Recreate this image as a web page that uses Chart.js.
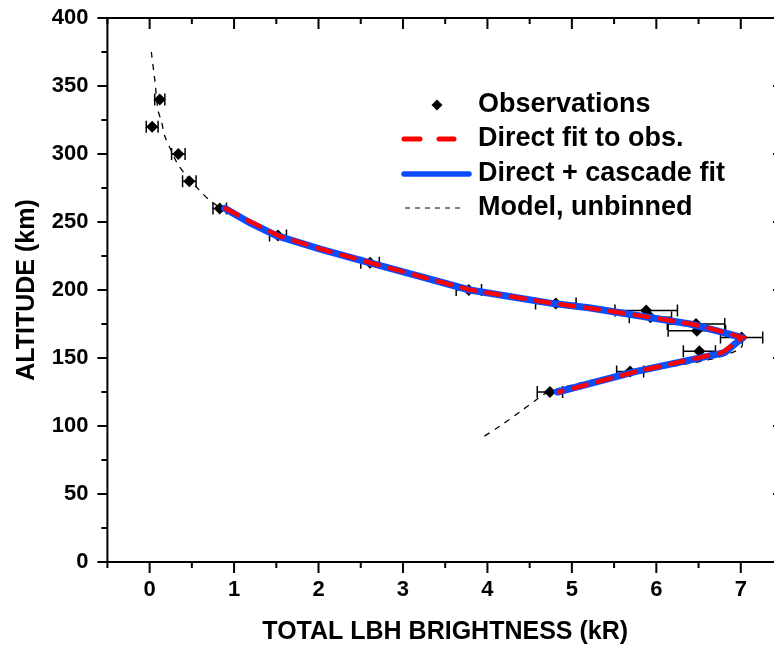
<!DOCTYPE html>
<html>
<head>
<meta charset="utf-8">
<script src="https://cdn.jsdelivr.net/npm/chart.js@4.4.1/dist/chart.umd.min.js"></script>
<style>
  html, body { margin: 0; padding: 0; background: #fff; overflow: hidden; }
  #wrap { width: 774px; height: 646px; overflow: hidden; }
  canvas { display: block; }
</style>
</head>
<body>
<div id="wrap"><canvas id="chart" width="792" height="646"></canvas></div>
<script>
// observations (altitude km, brightness kR, +/- error)
const obsAlt = [340, 320, 300, 280, 260, 240, 220, 200, 190, 185, 180, 175, 170, 165, 155, 140, 125];
const obsVal = [0.12, 0.03, 0.34, 0.47, 0.83, 1.52, 2.61, 3.78, 4.81, 5.88, 5.93, 6.47, 6.48, 7.01, 6.51, 5.69, 4.74];
const obsErr = [0.06, 0.07, 0.08, 0.08, 0.08, 0.10, 0.11, 0.15, 0.24, 0.37, 0.25, 0.34, 0.34, 0.25, 0.19, 0.16, 0.15];

// direct fit to obs.
const directAlt = [260, 250, 240, 230, 220, 210, 200, 190, 185, 180, 175, 170, 165, 154, 140, 125];
const directVal = [0.90, 1.20, 1.52, 2.03, 2.62, 3.20, 3.80, 4.80, 5.40, 5.92, 6.42, 6.74, 7.02, 6.78, 5.76, 4.85];

// direct + cascade fit
const cascadeAlt = [260, 250, 240, 230, 220, 210, 200, 190, 187, 175, 170, 165, 154, 140, 125];
const cascadeVal = [0.89, 1.17, 1.50, 2.02, 2.61, 3.20, 3.79, 4.78, 5.20, 6.40, 6.72, 7.02, 6.81, 5.75, 4.83];

// model, unbinned
const modelAlt = [375, 355, 332, 324, 313, 302, 294, 285, 274, 266, 260, 250, 240, 230, 220, 210, 200, 190, 180, 175, 170, 165, 160, 156, 150, 145, 140, 132, 125, 118, 112, 100, 92];
const modelVal = [0.02, 0.06, 0.10, 0.14, 0.18, 0.26, 0.32, 0.42, 0.58, 0.71, 0.85, 1.17, 1.52, 2.02, 2.60, 3.18, 3.80, 4.80, 5.85, 6.38, 6.75, 6.97, 7.02, 6.97, 6.70, 6.30, 5.72, 5.13, 4.72, 4.55, 4.42, 4.15, 3.95];

const xMin = -0.5, xMax = 7.5, xMinor = 0.5;
const yMin = 0, yMax = 400, yMinor = 25;

const toXY = (vals, alts) => vals.map((v, i) => ({ x: v, y: alts[i] }));

const FONT = '"Liberation Sans", Arial, sans-serif';

// error bars under the observation diamonds
const errorBars = {
  id: 'errorBars',
  beforeDatasetsDraw(chart) {
    const { ctx, scales: { x, y } } = chart;
    ctx.save();
    ctx.beginPath();
    ctx.rect(chart.chartArea.left, chart.chartArea.top, chart.chartArea.width, chart.chartArea.height);
    ctx.clip();
    ctx.strokeStyle = '#000';
    ctx.lineWidth = 1.5;
    obsAlt.forEach((alt, i) => {
      const py = y.getPixelForValue(alt);
      const x0 = x.getPixelForValue(obsVal[i] - obsErr[i]);
      const x1 = x.getPixelForValue(obsVal[i] + obsErr[i]);
      ctx.beginPath();
      ctx.moveTo(x0, py); ctx.lineTo(x1, py);
      ctx.moveTo(x0, py - 6); ctx.lineTo(x0, py + 6);
      ctx.moveTo(x1, py - 6); ctx.lineTo(x1, py + 6);
      ctx.stroke();
    });
    ctx.restore();
  }
};

// box frame with in/out tick marks like the original plot
const frame = {
  id: 'frame',
  afterDraw(chart) {
    const { ctx, chartArea: a, scales: { x, y } } = chart;
    ctx.save();
    ctx.strokeStyle = '#000';
    ctx.lineWidth = 2;
    ctx.strokeRect(a.left, a.top, a.right - a.left, a.bottom - a.top);
    ctx.beginPath();
    for (let v = xMin; v <= xMax + 1e-9; v += xMinor) {
      const px = x.getPixelForValue(v);
      const len = Number.isInteger(v) ? 11 : 6;
      ctx.moveTo(px, a.bottom); ctx.lineTo(px, a.bottom + len);
      ctx.moveTo(px, a.top); ctx.lineTo(px, a.top + len);
    }
    for (let v = yMin; v <= yMax; v += yMinor) {
      const py = y.getPixelForValue(v);
      const len = v % 50 === 0 ? 10 : 6;
      ctx.moveTo(a.left, py); ctx.lineTo(a.left - len, py);
      ctx.moveTo(a.right, py); ctx.lineTo(a.right - len, py);
    }
    ctx.stroke();
    ctx.restore();
  }
};

// legend inside the plot, top right
const legendBox = {
  id: 'legendBox',
  afterDraw(chart) {
    const { ctx } = chart;
    const ds = chart.data.datasets;
    const rows = [105, 139, 174, 208];
    const textX = 478;
    ctx.save();
    ctx.font = 'bold 27px ' + FONT;
    ctx.fillStyle = '#000';
    ctx.textBaseline = 'middle';
    ctx.textAlign = 'left';
    // observations: diamond
    ctx.beginPath();
    ctx.moveTo(437, rows[0] - 5.5); ctx.lineTo(442.5, rows[0]);
    ctx.lineTo(437, rows[0] + 5.5); ctx.lineTo(431.5, rows[0]);
    ctx.closePath();
    ctx.fill();
    ctx.fillText(ds[3].label, textX, rows[0]);
    // direct fit: red dashed
    ctx.lineCap = 'round';
    ctx.strokeStyle = ds[0].borderColor;
    ctx.lineWidth = 5;
    ctx.setLineDash([16, 19]);
    ctx.beginPath(); ctx.moveTo(404, rows[1]); ctx.lineTo(454, rows[1]); ctx.stroke();
    ctx.fillText(ds[0].label, textX, rows[1]);
    // cascade fit: blue solid
    ctx.setLineDash([]);
    ctx.strokeStyle = ds[1].borderColor;
    ctx.lineWidth = 5.5;
    ctx.beginPath(); ctx.moveTo(404, rows[2]); ctx.lineTo(469, rows[2]); ctx.stroke();
    ctx.fillText(ds[1].label, textX, rows[2]);
    // model: thin black dashed
    ctx.lineCap = 'butt';
    ctx.strokeStyle = '#000';
    ctx.lineWidth = 1;
    ctx.setLineDash([5, 5]);
    ctx.beginPath(); ctx.moveTo(405, rows[3]); ctx.lineTo(463, rows[3]); ctx.stroke();
    ctx.fillText(ds[2].label, textX, rows[3]);
    ctx.restore();
  }
};

Chart.defaults.color = '#000';
Chart.defaults.font.family = FONT;

new Chart(document.getElementById('chart'), {
  type: 'scatter',
  data: {
    datasets: [
      {
        label: 'Direct fit to obs.',
        data: toXY(directVal, directAlt),
        showLine: true,
        borderColor: '#ff0000',
        borderWidth: 4.5,
        borderDash: [14, 11],
        borderCapStyle: 'round',
        pointRadius: 0,
        order: 0
      },
      {
        label: 'Direct + cascade fit',
        data: toXY(cascadeVal, cascadeAlt),
        showLine: true,
        borderColor: '#0a4cff',
        borderWidth: 7,
        borderJoinStyle: 'round',
        borderCapStyle: 'round',
        pointRadius: 0,
        order: 1
      },
      {
        label: 'Model, unbinned',
        data: toXY(modelVal, modelAlt),
        showLine: true,
        borderColor: '#000',
        borderWidth: 1.3,
        borderDash: [6, 6],
        pointRadius: 0,
        tension: 0.3,
        order: 2
      },
      {
        label: 'Observations',
        data: toXY(obsVal, obsAlt),
        showLine: false,
        pointStyle: 'rectRot',
        pointRadius: 6,
        backgroundColor: '#000',
        borderColor: '#000',
        borderWidth: 0,
        order: 3
      }
    ]
  },
  options: {
    responsive: false,
    animation: false,
    devicePixelRatio: 1,
    layout: { padding: { top: 18, right: 9, left: 0, bottom: 0 } },
    plugins: { legend: { display: false }, tooltip: { enabled: false } },
    scales: {
      x: {
        type: 'linear',
        min: xMin,
        max: xMax,
        grid: { display: false, drawTicks: false },
        border: { display: false },
        ticks: {
          stepSize: xMinor,
          autoSkip: false,
          maxRotation: 0,
          padding: 15,
          font: { size: 22, weight: 'bold' },
          callback: (v) => Number.isInteger(v) ? String(v) : ''
        },
        title: {
          display: true,
          text: 'TOTAL LBH BRIGHTNESS (kR)',
          font: { size: 25, weight: 'bold', lineHeight: 1 },
          padding: { top: 0, bottom: 1 }
        },
        afterFit: (s) => { s.height = 84; s.paddingLeft = 0; s.paddingRight = 0; }
      },
      y: {
        min: yMin,
        max: yMax,
        grid: { display: false, drawTicks: false },
        border: { display: false },
        ticks: {
          stepSize: 50,
          padding: 19,
          font: { size: 22, weight: 'bold' }
        },
        title: {
          display: true,
          text: 'ALTITUDE (km)',
          font: { size: 25, weight: 'bold', lineHeight: 1 },
          padding: { top: 15, bottom: 0 }
        },
        afterFit: (s) => { s.width = 107.4; s.paddingTop = 0; s.paddingBottom = 0; }
      }
    }
  },
  plugins: [errorBars, frame, legendBox]
});
</script>
</body>
</html>
